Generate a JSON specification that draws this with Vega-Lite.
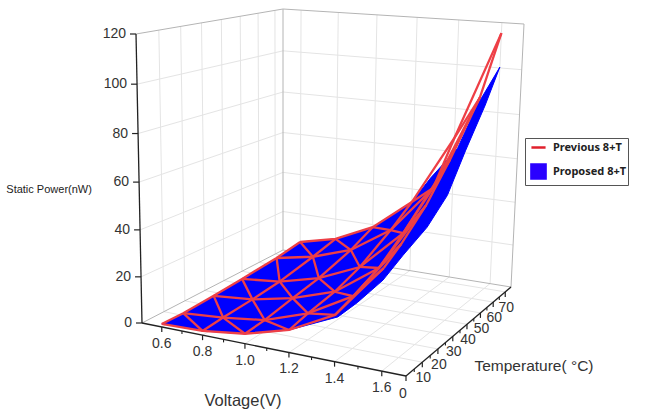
{"$schema":"https://vega.github.io/schema/vega-lite/v6.json","width":647,"height":411,"padding":0,"autosize":{"type":"none"},"background":"white","config":{"view":{"stroke":null}},
"data":{"values":[
{"set":"mesh","col":0,"row":0,"V":0.6,"T":0,"P":1.3},{"set":"mesh","col":0,"row":1,"V":0.6,"T":10,"P":1.0},{"set":"mesh","col":0,"row":2,"V":0.6,"T":25,"P":1.5},{"set":"mesh","col":0,"row":3,"V":0.6,"T":40,"P":2.4},{"set":"mesh","col":0,"row":4,"V":0.6,"T":60,"P":3.7},{"set":"mesh","col":0,"row":5,"V":0.6,"T":75,"P":5.6},
{"set":"mesh","col":1,"row":0,"V":0.8,"T":0,"P":1.8},{"set":"mesh","col":1,"row":1,"V":0.8,"T":10,"P":2.5},{"set":"mesh","col":1,"row":2,"V":0.8,"T":25,"P":3.2},{"set":"mesh","col":1,"row":3,"V":0.8,"T":40,"P":4.3},{"set":"mesh","col":1,"row":4,"V":0.8,"T":60,"P":7.3},{"set":"mesh","col":1,"row":5,"V":0.8,"T":75,"P":10},
{"set":"mesh","col":2,"row":0,"V":1.0,"T":0,"P":4.2},{"set":"mesh","col":2,"row":1,"V":1.0,"T":10,"P":4.9},{"set":"mesh","col":2,"row":2,"V":1.0,"T":25,"P":7.1},{"set":"mesh","col":2,"row":3,"V":1.0,"T":40,"P":9.1},{"set":"mesh","col":2,"row":4,"V":1.0,"T":60,"P":13.6},{"set":"mesh","col":2,"row":5,"V":1.0,"T":75,"P":18.7},
{"set":"mesh","col":3,"row":0,"V":1.2,"T":0,"P":9.4},{"set":"mesh","col":3,"row":1,"V":1.2,"T":10,"P":11.3},{"set":"mesh","col":3,"row":2,"V":1.2,"T":25,"P":13.3},{"set":"mesh","col":3,"row":3,"V":1.2,"T":40,"P":17.4},{"set":"mesh","col":3,"row":4,"V":1.2,"T":60,"P":26},{"set":"mesh","col":3,"row":5,"V":1.2,"T":75,"P":33.7},
{"set":"mesh","col":4,"row":0,"V":1.4,"T":0,"P":19.2},{"set":"mesh","col":4,"row":1,"V":1.4,"T":10,"P":22},{"set":"mesh","col":4,"row":2,"V":1.4,"T":25,"P":26.9},{"set":"mesh","col":4,"row":3,"V":1.4,"T":40,"P":35.6},{"set":"mesh","col":4,"row":4,"V":1.4,"T":60,"P":48.2},{"set":"mesh","col":4,"row":5,"V":1.4,"T":75,"P":66.4},
{"set":"mesh","col":5,"row":0,"V":1.6,"T":0,"P":41.4},{"set":"mesh","col":5,"row":1,"V":1.6,"T":10,"P":46.6},{"set":"mesh","col":5,"row":2,"V":1.6,"T":25,"P":56.4},{"set":"mesh","col":5,"row":3,"V":1.6,"T":40,"P":70},{"set":"mesh","col":5,"row":4,"V":1.6,"T":60,"P":90.6},{"set":"mesh","col":5,"row":5,"V":1.6,"T":75,"P":115.4},
{"set":"blue","ord":1,"V":0.6,"T":0,"P":1.3},{"set":"blue","ord":2,"V":0.6,"T":10,"P":1},{"set":"blue","ord":3,"V":0.6,"T":25,"P":1.5},{"set":"blue","ord":4,"V":0.6,"T":40,"P":2.4},{"set":"blue","ord":5,"V":0.6,"T":60,"P":3.7},{"set":"blue","ord":6,"V":0.6,"T":75,"P":5.6},{"set":"blue","ord":7,"V":0.8,"T":75,"P":10},{"set":"blue","ord":8,"V":1.0,"T":75,"P":18.7},{"set":"blue","ord":9,"V":1.2,"T":75,"P":33.7},{"set":"blue","ord":10,"V":1.29,"T":75,"P":46.3},{"set":"blue","ord":11,"V":1.417,"T":75,"P":61.8},{"set":"blue","ord":12,"V":1.503,"T":75,"P":82.5},{"set":"blue","ord":13,"V":1.6,"T":75,"P":100.4},{"set":"blue","ord":14,"V":1.6,"T":64.5,"P":86.2},{"set":"blue","ord":15,"V":1.6,"T":51,"P":70.5},{"set":"blue","ord":16,"V":1.6,"T":39,"P":55.2},{"set":"blue","ord":17,"V":1.6,"T":26,"P":46.8},{"set":"blue","ord":18,"V":1.6,"T":11.3,"P":41.5},{"set":"blue","ord":19,"V":1.598,"T":0,"P":36.6},{"set":"blue","ord":20,"V":1.494,"T":0,"P":25.9},{"set":"blue","ord":21,"V":1.412,"T":0,"P":18.6},{"set":"blue","ord":22,"V":1.2,"T":0,"P":9.4},{"set":"blue","ord":23,"V":1.0,"T":0,"P":4.2},{"set":"blue","ord":24,"V":0.8,"T":0,"P":1.8},
{"set":"grid","id":"a1","V":0.5,"T":10,"P":0},{"set":"grid","id":"a1","V":0.5,"T":10,"P":120},{"set":"grid","id":"a2","V":0.5,"T":20,"P":0},{"set":"grid","id":"a2","V":0.5,"T":20,"P":120},{"set":"grid","id":"a3","V":0.5,"T":30,"P":0},{"set":"grid","id":"a3","V":0.5,"T":30,"P":120},{"set":"grid","id":"a4","V":0.5,"T":40,"P":0},{"set":"grid","id":"a4","V":0.5,"T":40,"P":120},{"set":"grid","id":"a5","V":0.5,"T":50,"P":0},{"set":"grid","id":"a5","V":0.5,"T":50,"P":120},{"set":"grid","id":"a6","V":0.5,"T":60,"P":0},{"set":"grid","id":"a6","V":0.5,"T":60,"P":120},{"set":"grid","id":"a7","V":0.5,"T":70,"P":0},{"set":"grid","id":"a7","V":0.5,"T":70,"P":120},
{"set":"grid","id":"b1","V":0.5,"T":0,"P":20},{"set":"grid","id":"b1","V":0.5,"T":75,"P":20},{"set":"grid","id":"b2","V":0.5,"T":0,"P":40},{"set":"grid","id":"b2","V":0.5,"T":75,"P":40},{"set":"grid","id":"b3","V":0.5,"T":0,"P":60},{"set":"grid","id":"b3","V":0.5,"T":75,"P":60},{"set":"grid","id":"b4","V":0.5,"T":0,"P":80},{"set":"grid","id":"b4","V":0.5,"T":75,"P":80},{"set":"grid","id":"b5","V":0.5,"T":0,"P":100},{"set":"grid","id":"b5","V":0.5,"T":75,"P":100},
{"set":"grid","id":"c1","V":0.6,"T":75,"P":0},{"set":"grid","id":"c1","V":0.6,"T":75,"P":120},{"set":"grid","id":"c2","V":0.8,"T":75,"P":0},{"set":"grid","id":"c2","V":0.8,"T":75,"P":120},{"set":"grid","id":"c3","V":1.0,"T":75,"P":0},{"set":"grid","id":"c3","V":1.0,"T":75,"P":120},{"set":"grid","id":"c4","V":1.2,"T":75,"P":0},{"set":"grid","id":"c4","V":1.2,"T":75,"P":120},{"set":"grid","id":"c5","V":1.4,"T":75,"P":0},{"set":"grid","id":"c5","V":1.4,"T":75,"P":120},{"set":"grid","id":"c6","V":1.6,"T":75,"P":0},{"set":"grid","id":"c6","V":1.6,"T":75,"P":120},
{"set":"grid","id":"d1","V":0.5,"T":75,"P":20},{"set":"grid","id":"d1","V":1.7,"T":75,"P":20},{"set":"grid","id":"d2","V":0.5,"T":75,"P":40},{"set":"grid","id":"d2","V":1.7,"T":75,"P":40},{"set":"grid","id":"d3","V":0.5,"T":75,"P":60},{"set":"grid","id":"d3","V":1.7,"T":75,"P":60},{"set":"grid","id":"d4","V":0.5,"T":75,"P":80},{"set":"grid","id":"d4","V":1.7,"T":75,"P":80},{"set":"grid","id":"d5","V":0.5,"T":75,"P":100},{"set":"grid","id":"d5","V":1.7,"T":75,"P":100},
{"set":"grid","id":"e1","V":0.6,"T":0,"P":0},{"set":"grid","id":"e1","V":0.6,"T":75,"P":0},{"set":"grid","id":"e2","V":0.8,"T":0,"P":0},{"set":"grid","id":"e2","V":0.8,"T":75,"P":0},{"set":"grid","id":"e3","V":1.0,"T":0,"P":0},{"set":"grid","id":"e3","V":1.0,"T":75,"P":0},{"set":"grid","id":"e4","V":1.2,"T":0,"P":0},{"set":"grid","id":"e4","V":1.2,"T":75,"P":0},{"set":"grid","id":"e5","V":1.4,"T":0,"P":0},{"set":"grid","id":"e5","V":1.4,"T":75,"P":0},{"set":"grid","id":"e6","V":1.6,"T":0,"P":0},{"set":"grid","id":"e6","V":1.6,"T":75,"P":0},
{"set":"grid","id":"f1","V":0.5,"T":10,"P":0},{"set":"grid","id":"f1","V":1.7,"T":10,"P":0},{"set":"grid","id":"f2","V":0.5,"T":20,"P":0},{"set":"grid","id":"f2","V":1.7,"T":20,"P":0},{"set":"grid","id":"f3","V":0.5,"T":30,"P":0},{"set":"grid","id":"f3","V":1.7,"T":30,"P":0},{"set":"grid","id":"f4","V":0.5,"T":40,"P":0},{"set":"grid","id":"f4","V":1.7,"T":40,"P":0},{"set":"grid","id":"f5","V":0.5,"T":50,"P":0},{"set":"grid","id":"f5","V":1.7,"T":50,"P":0},{"set":"grid","id":"f6","V":0.5,"T":60,"P":0},{"set":"grid","id":"f6","V":1.7,"T":60,"P":0},{"set":"grid","id":"f7","V":0.5,"T":70,"P":0},{"set":"grid","id":"f7","V":1.7,"T":70,"P":0},
{"set":"frame","id":"h1","V":0.5,"T":0,"P":120},{"set":"frame","id":"h1","V":0.5,"T":75,"P":120},{"set":"frame","id":"h2","V":0.5,"T":75,"P":120},{"set":"frame","id":"h2","V":1.7,"T":75,"P":120},{"set":"frame","id":"h3","V":0.5,"T":75,"P":0},{"set":"frame","id":"h3","V":0.5,"T":75,"P":120},{"set":"frame","id":"h4","V":1.7,"T":75,"P":0},{"set":"frame","id":"h4","V":1.7,"T":75,"P":120},{"set":"frame","id":"h5","V":0.5,"T":75,"P":0},{"set":"frame","id":"h5","V":1.7,"T":75,"P":0},{"set":"frame","id":"h6","V":0.5,"T":0,"P":0},{"set":"frame","id":"h6","V":0.5,"T":75,"P":0},
{"set":"axis","id":"x","V":0.5,"T":0,"P":0},{"set":"axis","id":"x","V":1.7,"T":0,"P":0},{"set":"axis","id":"y","V":0.5,"T":0,"P":0},{"set":"axis","id":"y","V":0.5,"T":0,"P":120},{"set":"axis","id":"z","V":1.7,"T":0,"P":0},{"set":"axis","id":"z","V":1.7,"T":75,"P":0},
{"set":"plab","label":"0","V":0.5,"T":0,"P":0},{"set":"plab","label":"20","V":0.5,"T":0,"P":20},{"set":"plab","label":"40","V":0.5,"T":0,"P":40},{"set":"plab","label":"60","V":0.5,"T":0,"P":60},{"set":"plab","label":"80","V":0.5,"T":0,"P":80},{"set":"plab","label":"100","V":0.5,"T":0,"P":100},{"set":"plab","label":"120","V":0.5,"T":0,"P":120},
{"set":"vlab","label":"0.6","V":0.6,"T":0,"P":0},{"set":"vlab","label":"0.8","V":0.8,"T":0,"P":0},{"set":"vlab","label":"1.0","V":1.0,"T":0,"P":0},{"set":"vlab","label":"1.2","V":1.2,"T":0,"P":0},{"set":"vlab","label":"1.4","V":1.4,"T":0,"P":0},{"set":"vlab","label":"1.6","V":1.6,"T":0,"P":0},
{"set":"tlab","label":"10","V":1.7,"T":10,"P":0},{"set":"tlab","label":"20","V":1.7,"T":20,"P":0},{"set":"tlab","label":"30","V":1.7,"T":30,"P":0},{"set":"tlab","label":"40","V":1.7,"T":40,"P":0},{"set":"tlab","label":"50","V":1.7,"T":50,"P":0},{"set":"tlab","label":"60","V":1.7,"T":60,"P":0},{"set":"tlab","label":"70","V":1.7,"T":70,"P":0},
{"set":"tzero","label":"0","V":1.7,"T":0,"P":0},
{"set":"minor","V":0.7,"T":0,"P":0},{"set":"minor","V":0.9,"T":0,"P":0},{"set":"minor","V":1.1,"T":0,"P":0},{"set":"minor","V":1.3,"T":0,"P":0},{"set":"minor","V":1.5,"T":0,"P":0},
{"set":"minor","V":1.7,"T":5,"P":0},{"set":"minor","V":1.7,"T":15,"P":0},{"set":"minor","V":1.7,"T":25,"P":0},{"set":"minor","V":1.7,"T":35,"P":0},{"set":"minor","V":1.7,"T":45,"P":0},{"set":"minor","V":1.7,"T":55,"P":0},{"set":"minor","V":1.7,"T":65,"P":0},
{"set":"ttl1","label":"Voltage(V)","V":1.0,"T":0,"P":0},{"set":"ttl2","label":"Temperature( °C)","V":1.7,"T":40,"P":0},{"set":"ttl3","label":"Static Power(nW)","V":0.5,"T":0,"P":60},
{"set":"legend","series":"Previous 8+T","V":0.5,"T":0,"P":0},{"set":"legend","series":"Proposed 8+T","V":0.5,"T":0,"P":0}
]},
"transform":[
{"calculate":"(datum.V-0.5)/1.2","as":"s"},{"calculate":"datum.s+0.11*datum.s*(datum.s-1)","as":"u"},
{"calculate":"datum.T/75","as":"t"},{"calculate":"datum.t-0.19*datum.t*(datum.t-1)","as":"v"},
{"calculate":"datum.P/120","as":"p"},{"calculate":"datum.p+0.05*datum.p*(datum.p-1)","as":"w"},
{"calculate":"142+264*datum.u+141*datum.v-36*datum.u*datum.v+datum.w*(-6+13*datum.u+6*datum.v)","as":"px"},
{"calculate":"323+53*datum.u-73*datum.v-16*datum.u*datum.v+datum.w*(-289-22*datum.u+48*datum.v)","as":"py"}
],
"encoding":{"x":{"field":"px","type":"quantitative","scale":{"domain":[0,647],"nice":false,"zero":false},"axis":null},"y":{"field":"py","type":"quantitative","scale":{"domain":[411,0],"nice":false,"zero":false},"axis":null}},
"layer":[
{"transform":[{"filter":"datum.set=='grid'"}],"mark":{"type":"line","stroke":"#e4e4e4","strokeWidth":1},"encoding":{"detail":{"field":"id"}}},
{"transform":[{"filter":"datum.set=='frame'"}],"mark":{"type":"line","stroke":"#b4b4b4","strokeWidth":1},"encoding":{"detail":{"field":"id"}}},
{"transform":[{"filter":"datum.set=='blue'"}],"mark":{"type":"line","fill":"#0000ff","stroke":"#0000ff","strokeWidth":1},"encoding":{"order":{"field":"ord"}}},
{"transform":[{"filter":"datum.set=='mesh'"}],"mark":{"type":"line","stroke":"#ee3f46","strokeWidth":2.3},"encoding":{"detail":{"field":"col"},"order":{"field":"row"}}},
{"transform":[{"filter":"datum.set=='mesh'"}],"mark":{"type":"line","stroke":"#ee3f46","strokeWidth":2.3},"encoding":{"detail":{"field":"row"},"order":{"field":"col"}}},
{"transform":[{"filter":"datum.set=='mesh'"},{"calculate":"datum.col+datum.row","as":"diag"},{"filter":"datum.diag>0 && datum.diag<10"}],"mark":{"type":"line","stroke":"#ee3f46","strokeWidth":2.3},"encoding":{"detail":{"field":"diag"},"order":{"field":"col"}}},
{"transform":[{"filter":"datum.set=='axis'"}],"mark":{"type":"line","stroke":"#222222","strokeWidth":1.3},"encoding":{"detail":{"field":"id"}}},
{"transform":[{"filter":"datum.set=='plab'"}],"mark":{"type":"point","shape":"M0,0L-1,0","size":144,"stroke":"#222222","strokeWidth":1.2,"opacity":1}},
{"transform":[{"filter":"datum.set=='vlab'||datum.set=='tlab'||datum.set=='tzero'"}],"mark":{"type":"point","shape":"M0,0L0,1","size":100,"stroke":"#222222","strokeWidth":1.2,"opacity":1}},
{"transform":[{"filter":"datum.set=='minor'"}],"mark":{"type":"point","shape":"M0,0L0,1","size":36,"stroke":"#222222","strokeWidth":1.1,"opacity":1}},
{"transform":[{"filter":"datum.set=='plab'"}],"mark":{"type":"text","align":"right","baseline":"middle","dx":-10,"font":"Liberation Sans","fontSize":14,"fill":"#333333"},"encoding":{"text":{"field":"label"}}},
{"transform":[{"filter":"datum.set=='vlab'"}],"mark":{"type":"text","align":"center","baseline":"middle","dy":17,"font":"Liberation Sans","fontSize":14,"fill":"#333333"},"encoding":{"text":{"field":"label"}}},
{"transform":[{"filter":"datum.set=='tlab'"}],"mark":{"type":"text","align":"center","baseline":"middle","dx":1,"dy":16,"font":"Liberation Sans","fontSize":14,"fill":"#333333"},"encoding":{"text":{"field":"label"}}},
{"transform":[{"filter":"datum.set=='tzero'"}],"mark":{"type":"text","align":"center","baseline":"middle","dx":-3,"dy":18,"font":"Liberation Sans","fontSize":14,"fill":"#333333"},"encoding":{"text":{"field":"label"}}},
{"transform":[{"filter":"datum.set=='ttl1'"}],"mark":{"type":"text","align":"center","baseline":"middle","dx":-2,"dy":57,"font":"Liberation Sans","fontSize":16.5,"fill":"#333333"},"encoding":{"text":{"field":"label"}}},
{"transform":[{"filter":"datum.set=='ttl2'"}],"mark":{"type":"text","align":"center","baseline":"middle","dx":67,"dy":42,"font":"Liberation Sans","fontSize":15.5,"fill":"#333333"},"encoding":{"text":{"field":"label"}}},
{"transform":[{"filter":"datum.set=='ttl3'"}],"mark":{"type":"text","align":"center","baseline":"middle","dx":-90,"dy":8,"font":"Liberation Sans","fontSize":11,"fill":"#222222"},"encoding":{"text":{"field":"label"}}},
{"transform":[{"filter":"datum.set=='legend'"}],"mark":{"type":"point","size":0,"filled":true,"opacity":1},"encoding":{
"fill":{"field":"series","type":"nominal","scale":{"domain":["Previous 8+T","Proposed 8+T"],"range":["#e0202c","#2a00ff"]},"legend":null},
"stroke":{"field":"series","type":"nominal","scale":{"domain":["Previous 8+T","Proposed 8+T"],"range":["#e0202c","#2a00ff"]},"legend":null},
"shape":{"field":"series","type":"nominal","scale":{"domain":["Previous 8+T","Proposed 8+T"],"range":["stroke","square"]},"legend":{"title":null,"orient":"none","legendX":525,"legendY":138,"padding":1,"strokeColor":"#555555","fillColor":"white","symbolSize":200,"symbolStrokeWidth":2.5,"symbolOffset":4,"rowPadding":6,"labelFont":"Noto Sans","labelFontWeight":"bold","labelFontSize":11,"labelColor":"#222222","labelOffset":6,"encode":{"legend":{"update":{"width":{"value":115}}},"symbols":{"update":{"fill":{"scale":"fill","field":"value"},"stroke":{"scale":"stroke","field":"value"}}}}}}
}}
]}
